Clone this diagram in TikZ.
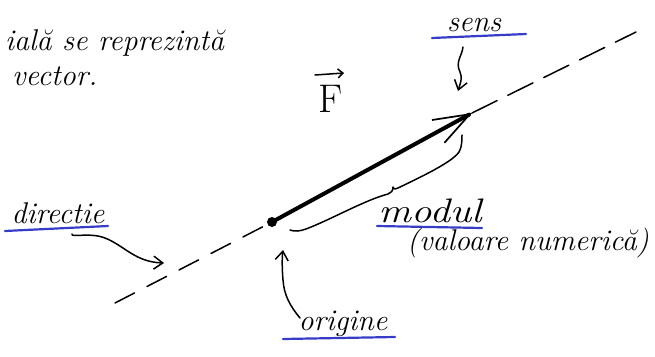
\documentclass[tikz,border=0pt]{standalone}
\usetikzlibrary{arrows.meta}
\definecolor{penblue}{RGB}{55,60,200}
\begin{document}
\begin{tikzpicture}[x=1pt,y=-1pt,
  ink/.style={line width=1.5pt,line cap=round,line join=round,black},
  uline/.style={line width=2.2pt,penblue,line cap=round},
  hand/.style={font=\itshape\fontsize{30}{32}\selectfont,inner sep=0pt,anchor=base},
  pointer/.style={ink,-{Straight Barb[length=9pt,width=13pt,line width=1.5pt]}}]
\useasboundingbox (0,0) rectangle (655,356);
% text top left
\node[hand,anchor=base west] (t1) at (5,50) {ială se reprezintă};
\node[hand,anchor=base west] (t2) at (12,85) {vector.};
% direction line
\coordinate (o) at (272,222);
\coordinate (tip) at (472,113);
\coordinate (dl) at (115,303);
\coordinate (dr) at (636,32);
\draw[ink,dash pattern=on 22pt off 14pt] (dl) -- (o);
\draw[ink,dash pattern=on 28pt off 12pt,dash phase=40pt] (tip) -- (dr);
% vector
\draw[line width=4pt,line cap=round,-{Straight Barb[length=36pt,width=26pt,line width=1.7pt]}] (o) -- (tip);
\fill (o) circle (5pt);
% F label
\node[inner sep=0pt,font=\fontsize{40}{42}\selectfont,anchor=base] (F) at (331,112) {F};
\coordinate (fa1) at (315,75);
\coordinate (fa2) at (344,73);
\draw[ink,-{Straight Barb[length=5pt,width=9pt,line width=1.5pt]}] (fa1) -- (fa2);
% sens
\node[hand] (sens) at (474,31) {sens};
\draw[uline] (432,38) -- (526,34);
\coordinate (s1) at (463,47);
\coordinate (s2) at (458,91);
\draw[pointer] (s1) .. controls (462,56) and (455,62) .. (460,72) .. controls (463,78) and (460,84) .. (s2);
% directie
\node[hand] (directie) at (58,223) {directie};
\draw[uline] (5,231) -- (108,226);
\coordinate (d1) at (72,234);
\coordinate (d2) at (164,263);
\draw[pointer] (d1) .. controls (70,238) and (90,232) .. (105,238) .. controls (125,246) and (135,262) .. (d2);
% modul brace
\coordinate (b1) at (290,230);
\coordinate (b2) at (462,135);
\draw[ink] (b1) .. controls (295,232) and (300,231) .. (306,229)
  .. controls (330,220) and (365,200) .. (388,194)
  .. controls (391,193) and (393,191) .. (393,187)
  .. controls (394,190) and (396,189) .. (398,188)
  .. controls (425,175) and (452,162) .. (459,152)
  .. controls (462,147) and (462,140) .. (b2);
\node[hand,font=\itshape\fontsize{34}{36}\selectfont,xscale=1.2] (modul) at (430,222) {modul};
\draw[uline] (377,226) -- (482,228);
\node[hand] (val) at (528,250) {(valoare numerică)};
% origine
\node[hand] (origine) at (343,330) {origine};
\draw[uline] (283,339) -- (395,337);
\coordinate (r1) at (300,318);
\coordinate (r2) at (283,250);
\draw[pointer] (r1) .. controls (290,306) and (284,295) .. (283,280) .. controls (282,268) and (282,258) .. (r2);
\end{tikzpicture}
\end{document}
